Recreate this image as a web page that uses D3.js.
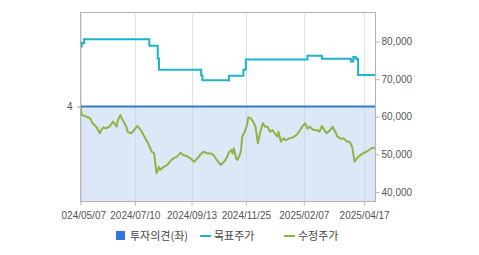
<!DOCTYPE html>
<html>
<head>
<meta charset="utf-8">
<script src="https://cdn.jsdelivr.net/npm/d3@7"></script>
<style>
  body { margin: 0; background: #fff; }
  svg { display: block; font-family: "Liberation Sans", Arial, sans-serif; }
</style>
</head>
<body>
<div id="chart"></div>
<script>

// ======================= //
// DATA
// ======================= //

// x axis is trading-day index (0 = 2024/05/07)
var lastDay = 244
var tickLabels = ["2024/05/07", "2024/07/10", "2024/09/13", "2024/11/25", "2025/02/07", "2025/04/17"]
var tickDays = [0, 45, 92, 137, 185, 235]

// right axis (won)
var priceTicks = [40000, 50000, 60000, 70000, 80000]
// left axis (opinion)
var opinionTicks = [4]

var legendNames = ["투자의견(좌)", "목표주가", "수정주가"]

// 투자의견 [day, value]
var opinion = [[0, 4], [244, 4]]

// 목표주가 [day, value] (step changes)
var target = [
  [0, 78700], [1, 79600], [3, 80600], [57, 78900], [64, 75500], [65, 72500],
  [100, 71000], [101, 69700], [123, 70900], [135, 72500], [137, 75200],
  [188, 76200], [200, 75400], [224, 74700], [226, 75900], [228, 75400],
  [230, 71100], [244, 71100]
]

// 수정주가 [day, value]
var price = [
  [0, 62800], [1, 60450], [3, 60300], [5, 60000], [8, 59600], [10, 58250], [13, 57350],
  [16, 55600], [17, 56450], [19, 57200], [21, 56900], [24, 57350], [27, 58700],
  [30, 57350], [31, 59100], [33, 60450], [35, 59100], [38, 57350], [39, 56000],
  [42, 55600], [44, 56300], [47, 57550], [50, 56450], [53, 54700], [56, 52950],
  [59, 50700], [61, 50250], [63, 45000], [65, 46700], [66, 45850], [69, 46700],
  [72, 47200], [74, 48050], [77, 48950], [80, 49400], [83, 50450], [85, 49850],
  [88, 49550], [91, 48950], [94, 48050], [97, 48950], [99, 49850], [102, 50700],
  [105, 50250], [108, 50250], [110, 49850], [113, 48500], [116, 47200], [119, 48050],
  [121, 49000], [123, 50500], [125, 51150], [126, 50250], [127, 51600], [129, 48950],
  [130, 48500], [132, 49850], [133, 51150], [134, 54700], [136, 56000], [138, 57800],
  [139, 59850], [141, 59600], [143, 58700], [145, 57350], [147, 52950], [149, 56000],
  [151, 58250], [153, 57350], [155, 57350], [157, 56000], [159, 56450], [161, 55600],
  [163, 54700], [164, 56000], [166, 53350], [168, 54250], [170, 53800], [173, 54250],
  [176, 54500], [179, 55150], [181, 56000], [184, 57500], [186, 58250], [188, 56900],
  [190, 57350], [193, 56450], [196, 56450], [198, 56000], [200, 57550], [202, 56450],
  [204, 55600], [207, 56450], [209, 57350], [211, 56000], [213, 54700], [215, 54250],
  [218, 54250], [221, 53350], [223, 53350], [225, 52050], [226, 50250], [227, 48050],
  [229, 48950], [232, 49850], [234, 50250], [237, 50700], [240, 51350], [242, 51800],
  [244, 51600]
]

// ======================= //
// SVG AREA
// ======================= //

var margin = {top: 12, left: 80, right: 104, bottom: 54}
var W = 479, H = 255
var width = W - margin.left - margin.right,
    height = H - margin.top - margin.bottom

var svgRoot = d3.select("#chart")
  .append("svg")
    .attr("width", W)
    .attr("height", H)

var svg = svgRoot.append("g")
    .attr("transform", "translate(" + margin.left + "," + margin.top + ")")

// ======================= //
// SCALES
// ======================= //

var x = d3.scaleLinear()
  .domain([0, lastDay])
  .range([0.5, width])

var yPrice = d3.scaleLinear()
  .domain([37600, 87850])
  .range([height, 0])

var yOpinion = d3.scaleLinear()
  .domain([0, 8])
  .range([height, 0])

// ======================= //
// OPINION AREA
// ======================= //

svg.append("path")
  .datum(opinion)
  .attr("fill", "#dce7f7")
  .attr("d", d3.area()
    .x(function(d) { return x(d[0]) })
    .y0(yOpinion(0))
    .y1(function(d) { return yOpinion(d[1]) }))

// vertical grid
svg.selectAll("xGrid")
  .data(tickDays)
  .enter()
  .append("line")
    .attr("x1", function(d) { return Math.round(x(d)) + 0.5 })
    .attr("x2", function(d) { return Math.round(x(d)) + 0.5 })
    .attr("y1", 0)
    .attr("y2", height)
    .attr("stroke", "#c8d0da")
    .attr("stroke-opacity", 0.6)

// ======================= //
// LINES
// ======================= //

svg.append("path")
  .datum(price)
  .attr("fill", "none")
  .attr("stroke", "#8db546")
  .attr("stroke-width", 2)
  .attr("stroke-linejoin", "round")
  .attr("d", d3.line()
    .x(function(d) { return x(d[0]) })
    .y(function(d) { return yPrice(d[1]) }))

svg.append("path")
  .datum(target)
  .attr("fill", "none")
  .attr("stroke", "#1eb4c6")
  .attr("stroke-width", 2)
  .attr("d", d3.line()
    .curve(d3.curveStepAfter)
    .x(function(d) { return x(d[0]) })
    .y(function(d) { return yPrice(d[1]) }))

svg.append("path")
  .datum(opinion)
  .attr("fill", "none")
  .attr("stroke", "#3b78c2")
  .attr("stroke-width", 2)
  .attr("d", d3.line()
    .x(function(d) { return x(d[0]) })
    .y(function(d) { return yOpinion(d[1]) }))

// ======================= //
// FRAME + AXES
// ======================= //

svg.append("rect")
  .attr("x", 0.5)
  .attr("y", 0.5)
  .attr("width", width)
  .attr("height", height)
  .attr("fill", "none")
  .attr("stroke", "#b4b4b4")

// right axis
var rightAxis = svg.append("g")
  .attr("transform", "translate(" + (width + 0.5) + ",0)")
  .call(d3.axisRight(yPrice).tickValues(priceTicks).tickSize(4).tickPadding(2)
    .tickFormat(d3.format(",")))
rightAxis.select(".domain").remove()
rightAxis.selectAll("line").attr("stroke", "#b4b4b4")
rightAxis.selectAll("text").attr("fill", "#555").style("font-size", "10px")

// left axis
var leftAxis = svg.append("g")
  .attr("transform", "translate(0.5,0)")
  .call(d3.axisLeft(yOpinion).tickValues(opinionTicks).tickSize(4).tickPadding(4))
leftAxis.select(".domain").remove()
leftAxis.selectAll("line").attr("stroke", "#b4b4b4")
leftAxis.selectAll("text").attr("fill", "#555").style("font-size", "10px")

// bottom axis (clipped at the left like the original)
svgRoot.append("clipPath").attr("id", "xclip")
  .append("rect").attr("x", -19).attr("y", 0).attr("width", 420).attr("height", 60)

var bottomAxis = svg.append("g")
  .attr("transform", "translate(0," + (height + 0.5) + ")")
  .attr("clip-path", "url(#xclip)")
  .call(d3.axisBottom(x).tickValues(tickDays).tickSize(4).tickPadding(6)
    .tickFormat(function(d, i) { return tickLabels[i] }))
bottomAxis.select(".domain").remove()
bottomAxis.selectAll("line").attr("stroke", "#b4b4b4")
bottomAxis.selectAll("text").attr("fill", "#555").style("font-size", "10px")

// ======================= //
// LEGEND
// ======================= //

var legend = svgRoot.append("g")
  .style("font-family", "'Noto Sans CJK KR', sans-serif")
  .style("font-size", "11px")

legend.append("rect")
  .attr("x", 116).attr("y", 231).attr("width", 9).attr("height", 9)
  .attr("fill", "#2f7ad8")
legend.append("line")
  .attr("x1", 200).attr("x2", 211).attr("y1", 236).attr("y2", 236)
  .attr("stroke", "#1eb4c6").attr("stroke-width", 2)
legend.append("line")
  .attr("x1", 284).attr("x2", 295).attr("y1", 236).attr("y2", 236)
  .attr("stroke", "#8db546").attr("stroke-width", 2)

var legendX = [130, 214, 298]
legend.selectAll("legendText")
  .data(legendNames)
  .enter()
  .append("text")
    .attr("x", function(d, i) { return legendX[i] })
    .attr("y", 240)
    .attr("fill", "#444")
    .text(function(d) { return d })

</script>
</body>
</html>
